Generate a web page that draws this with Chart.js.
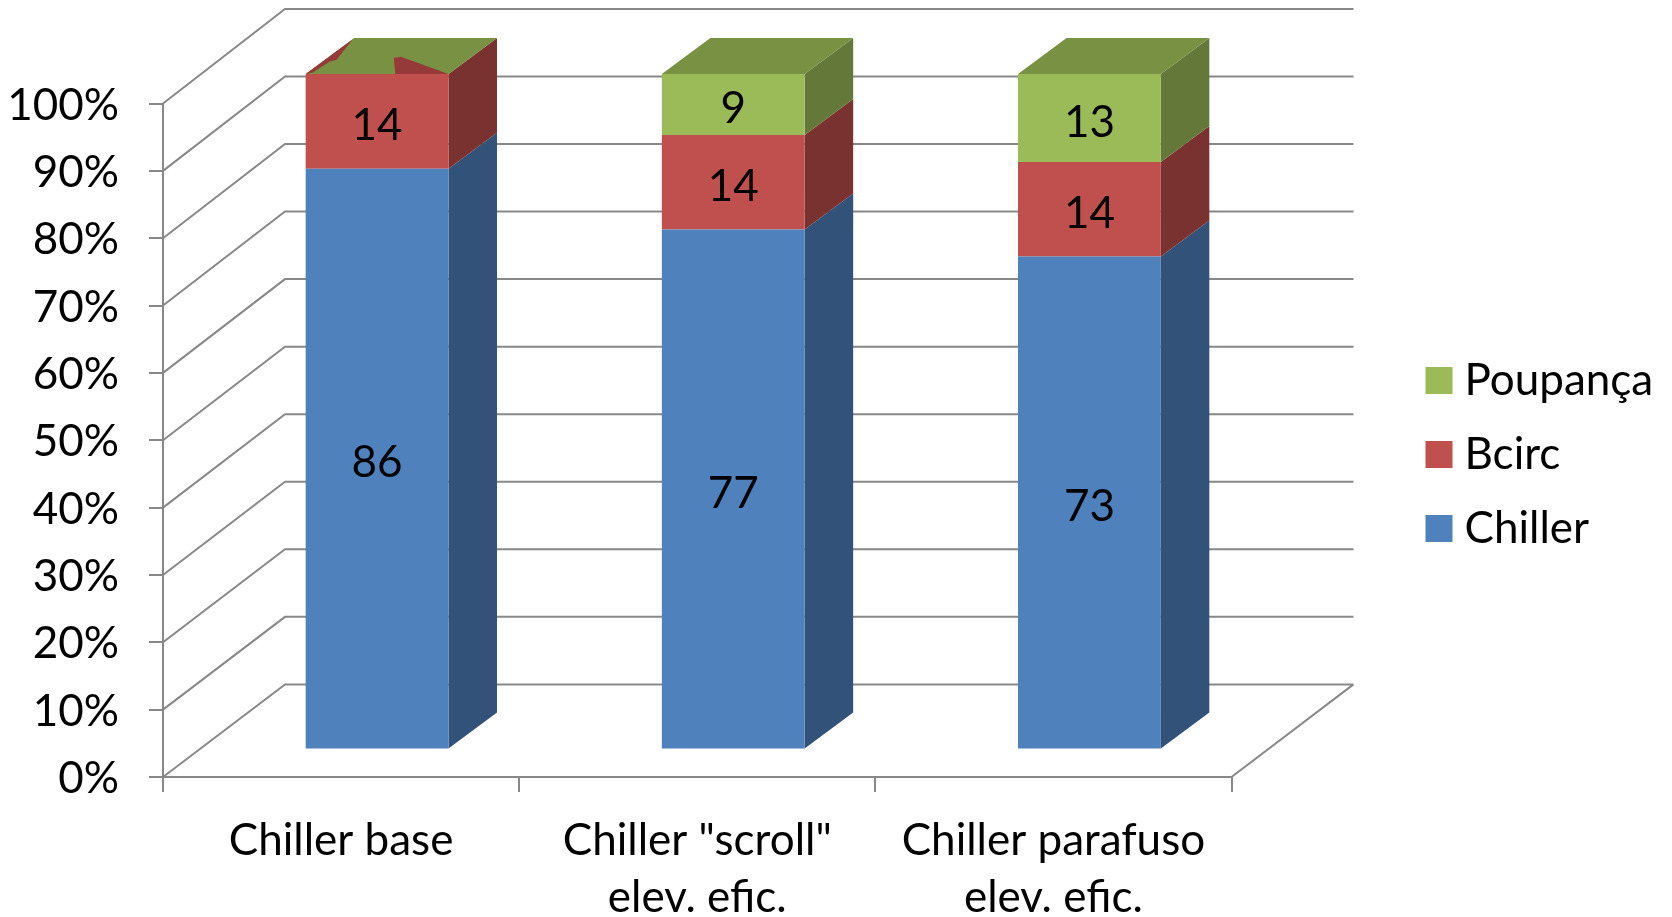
<!DOCTYPE html>
<html>
<head>
<meta charset="utf-8">
<title>Composição por tipo de chiller</title>
<script src="https://cdn.jsdelivr.net/npm/chart.js@4"></script>
<style>
  html, body { margin: 0; padding: 0; background: #fff; }
  canvas { display: block; }
</style>
</head>
<body>
<canvas id="chart" width="1672" height="917"></canvas>
<script>
const categories = ['Chiller base', ['Chiller "scroll"', 'elev. efic.'], ['Chiller parafuso', 'elev. efic.']];
const chiller = [86, 77, 73];
const bcirc = [14, 14, 14];
const poupanca = [0, 9, 13];

const FONT = 'Lato, "Noto Sans", sans-serif';
const FONT_SIZE = 44;
const GRID = '#888888';

// Oblique projection of the box: wall depth and bar depth in pixels.
const WALL = { dx: 122, dy: -92.6, stretch: 1.003 };
const BAR_PLANE = { dx: 36, dy: -27.4, stretch: 1.003 };
const BAR_DEPTH = { dx: 48.5, dy: -36 };

const shades = {
  blue:  { front: '#4f81bd', side: '#32527a', top: '#3f6797' },
  red:   { front: '#c0504d', side: '#7a3230', top: '#953a38' },
  green: { front: '#9bbb59', side: '#64783a', top: '#789142' }
};
const seriesShades = [shades.blue, shades.red, shades.green];

// Where a zero-height segment sits on the same plane as the one below it, the
// two top faces fight: slivers of red poke through the green (u across, v in depth).
const overlapSlivers = [
  [[0, 0], [0, 0.97], [0.083, 0.39], [0.05, 0.35], [0.035, 0.046]],
  [[0.466, 0.444], [0.504, 0.48], [1, 0], [0.628, 0]]
];

function poly(ctx, pts, fill) {
  ctx.beginPath();
  pts.forEach((p, i) => i ? ctx.lineTo(p[0], p[1]) : ctx.moveTo(p[0], p[1]));
  ctx.closePath();
  ctx.fillStyle = fill;
  ctx.fill();
}

const box3d = {
  id: 'box3d',
  afterLayout(chart) {
    // Legend column to the right of the box.
    const lg = chart.legend;
    const pad = lg.options.labels.padding;
    lg.left = 1435.5 - pad;
    lg.right = 1672;
    lg.top = 358.5 - pad;
    lg.bottom = 600;
    // The tall percent labels sit slightly below their tick marks.
    chart.scales.y.getLabelItems().forEach(item => { item.options.translation[1] += 2; });
  },
  beforeDatasetsDraw(chart) {
    const { ctx, scales: { x, y } } = chart;
    const base = y.getPixelForValue(0);
    ctx.save();

    // Side wall, back wall and floor lines.
    ctx.strokeStyle = GRID;
    ctx.lineWidth = 2;
    ctx.beginPath();
    y.ticks.forEach(t => {
      const front = y.getPixelForValue(t.value);
      const back = (front - base) * WALL.stretch + base + WALL.dy;
      ctx.moveTo(x.left, front);
      ctx.lineTo(x.left + WALL.dx, back);
      ctx.lineTo(x.right + WALL.dx, back);
    });
    ctx.moveTo(x.right, base);
    ctx.lineTo(x.right + WALL.dx, base + WALL.dy);
    ctx.stroke();

    // Side and top faces of each stacked segment.
    const px = v => v + BAR_PLANE.dx;
    const py = v => (v - base) * BAR_PLANE.stretch + base + BAR_PLANE.dy;
    chart.data.datasets.forEach((ds, di) => {
      const tone = seriesShades[di];
      chart.getDatasetMeta(di).data.forEach((el, i) => {
        if (!ds.data[i]) return;
        const r = px(el.x + el.width / 2);
        const t = py(el.y), b = py(el.base);
        poly(ctx, [[r, t], [r + BAR_DEPTH.dx, t + BAR_DEPTH.dy],
                   [r + BAR_DEPTH.dx, b + BAR_DEPTH.dy], [r, b]], tone.side);
      });
    });
    const last = chart.data.datasets.length - 1;
    chart.getDatasetMeta(last).data.forEach((el, i) => {
      const l = px(el.x - el.width / 2), r = px(el.x + el.width / 2), t = py(el.y);
      poly(ctx, [[l, t], [l + BAR_DEPTH.dx, t + BAR_DEPTH.dy],
                 [r + BAR_DEPTH.dx, t + BAR_DEPTH.dy], [r, t]], shades.green.top);
      if (!chart.data.datasets[last].data[i]) {
        overlapSlivers.forEach(s => poly(ctx, s.map(([u, v]) => [
          l + u * (r - l) + v * BAR_DEPTH.dx, t + v * BAR_DEPTH.dy
        ]), shades.red.top));
      }
    });
    ctx.restore();

    // Front faces are drawn by the bar controller, shifted onto the bars' plane.
    ctx.save();
    ctx.translate(BAR_PLANE.dx, base + BAR_PLANE.dy);
    ctx.scale(1, BAR_PLANE.stretch);
    ctx.translate(0, -base);
  },
  afterDatasetsDraw(chart) {
    const { ctx, scales: { y } } = chart;
    ctx.restore();
    const base = y.getPixelForValue(0);
    const py = v => (v - base) * BAR_PLANE.stretch + base + BAR_PLANE.dy;
    ctx.save();
    ctx.font = FONT_SIZE + 'px ' + FONT;
    ctx.fillStyle = '#000';
    ctx.textAlign = 'center';
    ctx.textBaseline = 'middle';
    chart.data.datasets.forEach((ds, di) => {
      chart.getDatasetMeta(di).data.forEach((el, i) => {
        if (!ds.data[i]) return;
        ctx.fillText(String(ds.data[i]), el.x + BAR_PLANE.dx, (py(el.y) + py(el.base)) / 2 + 4.5);
      });
    });
    ctx.restore();
  }
};

new Chart(document.getElementById('chart'), {
  type: 'bar',
  plugins: [box3d],
  data: {
    labels: categories,
    datasets: [
      { label: 'Chiller', data: chiller, backgroundColor: shades.blue.front },
      { label: 'Bcirc', data: bcirc, backgroundColor: shades.red.front },
      { label: 'Poupança', data: poupanca, backgroundColor: shades.green.front }
    ]
  },
  options: {
    responsive: false,
    animation: false,
    events: [],
    layout: { padding: { top: 103.5, right: 440.5, left: 0, bottom: 0 } },
    datasets: { bar: { barPercentage: 0.401, categoryPercentage: 1, clip: false, borderWidth: 0 } },
    font: { family: FONT },
    scales: {
      x: {
        stacked: true,
        afterFit(s) { s.height = 140; },
        grid: { offset: true, drawOnChartArea: false, drawTicks: true, tickLength: 15, color: GRID, lineWidth: 2 },
        border: { color: GRID, width: 2 },
        ticks: {
          color: '#000', maxRotation: 0, autoSkip: false, padding: 21,
          font: { family: FONT, size: FONT_SIZE, lineHeight: 1.284 }
        }
      },
      y: {
        stacked: true,
        min: 0,
        max: 100,
        afterFit(s) { s.width = 163; },
        grid: { drawOnChartArea: false, drawTicks: true, tickLength: 14, color: GRID, lineWidth: 2 },
        border: { color: GRID, width: 2 },
        ticks: {
          stepSize: 10, color: '#000', padding: 30,
          font: { family: FONT, size: FONT_SIZE },
          callback: v => v + '%'
        }
      }
    },
    plugins: {
      tooltip: { enabled: false },
      legend: {
        position: 'chartArea',
        align: 'start',
        reverse: true,
        labels: {
          color: '#000',
          font: { family: FONT, size: FONT_SIZE },
          usePointStyle: true,
          pointStyle: 'rect',
          boxWidth: 7,
          boxHeight: 27,
          padding: 30,
          generateLabels(chart) {
            return chart.data.datasets.map((ds, i) => ({
              text: ds.label, fillStyle: ds.backgroundColor, strokeStyle: ds.backgroundColor,
              lineWidth: 0, pointStyle: 'rect', datasetIndex: i, fontColor: '#000'
            }));
          }
        }
      }
    }
  }
});
</script>
</body>
</html>
